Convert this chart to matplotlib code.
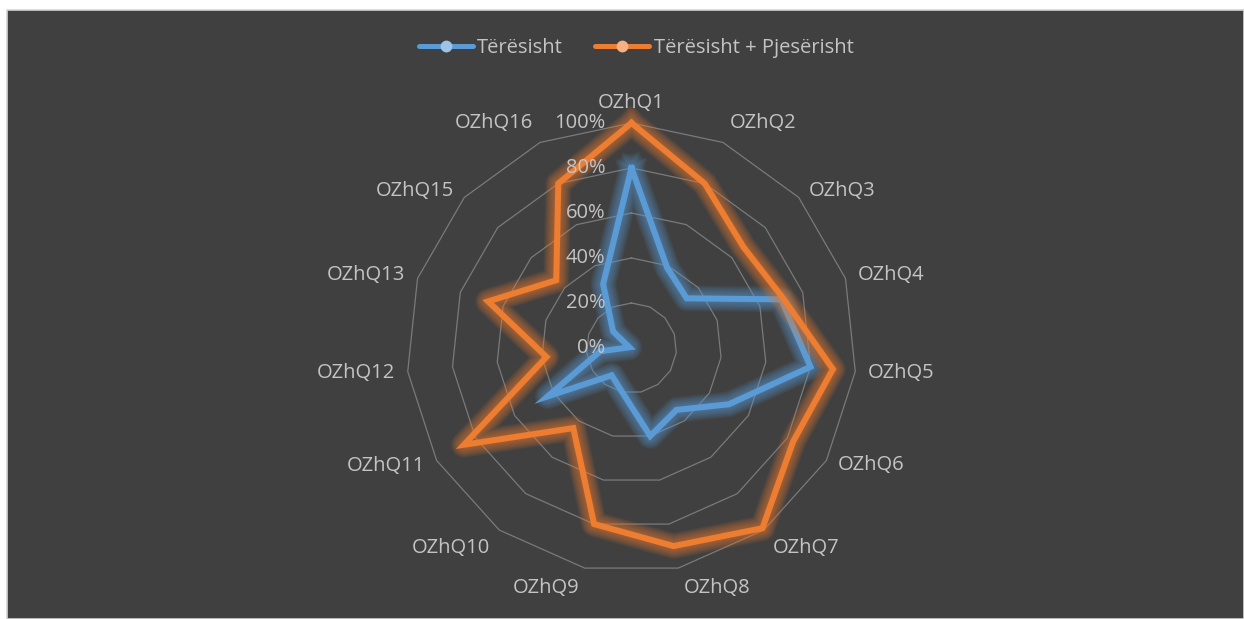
import numpy as np
import matplotlib
matplotlib.use("Agg")
import matplotlib.pyplot as plt
from matplotlib.patches import Rectangle
from matplotlib.lines import Line2D

plt.rcParams['font.family'] = ['Open Sans', 'DejaVu Sans']

categories = ["OZhQ1", "OZhQ2", "OZhQ3", "OZhQ4", "OZhQ5", "OZhQ6", "OZhQ7", "OZhQ8",
              "OZhQ9", "OZhQ10", "OZhQ11", "OZhQ12", "OZhQ13", "OZhQ15", "OZhQ16"]
teresisht = [0.80, 0.39, 0.33, 0.70, 0.80, 0.50, 0.34, 0.40,
             0.20, 0.15, 0.43, 0.14, 0.01, 0.11, 0.31]
teresisht_pjeserisht = [1.00, 0.80, 0.67, 0.71, 0.90, 0.83, 0.99, 0.90,
                        0.80, 0.44, 0.86, 0.38, 0.67, 0.45, 0.80]
series_names = ["Tërësisht", "Tërësisht + Pjesërisht"]
radial_levels = [0.0, 0.2, 0.4, 0.6, 0.8, 1.0]

W, H = 1244, 619
FS = 14.5
TXT = "#c4c4c4"
fig = plt.figure(figsize=(W / 100, H / 100), dpi=100)
fig.patch.set_facecolor("white")

# chart area background
bg = Rectangle((7 / W, 0), 1 - 7 / W, (H - 10) / H, transform=fig.transFigure,
               facecolor="#404040", edgecolor="#d4d4d4", lw=1.2, zorder=-10)
fig.add_artist(bg)

cx, cy, R = 631.5, 348.0, 225.0
ax = fig.add_axes([(cx - R) / W, (H - cy - R) / H, 2 * R / W, 2 * R / H], projection="polar")
ax.set_zorder(1)
ax.set_facecolor("none")
ax.patch.set_alpha(0)
ax.set_theta_zero_location("N")
ax.set_theta_direction(-1)
ax.set_ylim(0, 1)
ax.grid(False)
ax.spines["polar"].set_visible(False)
ax.set_xticks([])
ax.set_yticks([])

n = len(categories)
theta = np.linspace(0, 2 * np.pi, n, endpoint=False)
theta_c = np.append(theta, theta[0])

# polygon gridlines
for lvl in radial_levels[1:]:
    ax.plot(theta_c, [lvl] * (n + 1), color="#7a7a7a", lw=0.9, zorder=1, clip_on=False)

colors = ["#5B9BD5", "#ED7D31"]
light = ["#9DC3E6", "#F4B183"]
for vals, col, z in [(teresisht, colors[0], 3), (teresisht_pjeserisht, colors[1], 5)]:
    v = np.append(vals, vals[0])
    for w in np.linspace(26, 7, 12):
        ax.plot(theta_c, v, color=col, lw=w * 0.72, alpha=0.065, zorder=z,
                solid_joinstyle="round", clip_on=False)
    ax.plot(theta_c, v, color=col, lw=4.3, zorder=z + 0.5, solid_joinstyle="miter",
            clip_on=False)

# radial labels
for lvl in radial_levels:
    ax.annotate(f"{int(round(lvl * 100))}%", xy=(0, lvl), xytext=(-26, 0),
                textcoords="offset pixels", ha="right", va="center",
                color=TXT, fontsize=FS, zorder=10, annotation_clip=False)

# category labels
for t, lab in zip(theta, categories):
    s, c = np.sin(t), np.cos(t)
    ha = "center" if abs(s) < 0.1 else ("left" if s > 0 else "right")
    va = "bottom" if c > 0.7 else ("top" if c < -0.7 else "center")
    gap = 10
    ax.annotate(lab, xy=(t, 1.0), xytext=(gap * s + (3 if abs(s) >= 0.1 else 0) * np.sign(s), gap * c),
                textcoords="offset pixels", ha=ha, va=va,
                color=TXT, fontsize=FS, zorder=10, annotation_clip=False)

handles = [Line2D([0], [0], color=colors[i], lw=3.6, marker="o", markersize=7.5,
                  markerfacecolor=light[i], markeredgecolor=light[i],
                  solid_capstyle="round") for i in range(2)]
leg = fig.legend(handles, series_names, loc="center", bbox_to_anchor=(636 / W, 1 - 48 / H),
                 ncol=2, frameon=False, fontsize=FS, handlelength=2.7, handletextpad=0.2,
                 columnspacing=1.6, labelcolor=TXT)

fig.savefig("out.png", dpi=100, facecolor=fig.get_facecolor())
